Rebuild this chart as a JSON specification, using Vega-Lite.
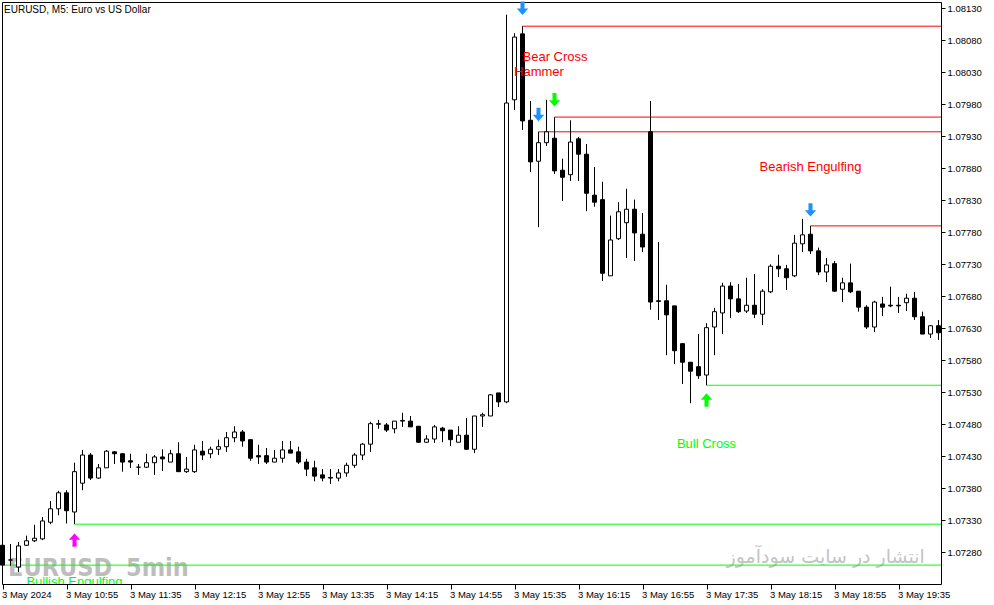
{
"$schema":"https://vega.github.io/schema/vega-lite/v6.json",
"width":939,"height":582,
"autosize":{"type":"none"},
"padding":{"left":2,"top":2,"right":53,"bottom":21},
"background":"white",
"config":{"view":{"stroke":"black","strokeWidth":1},"axis":{"grid":false,"domain":false,"tickColor":"black","labelColor":"black","labelFont":"Liberation Sans","labelFontSize":9.5,"labelOverlap":false,"labelSeparation":0}},
"datasets":{
"candles":[
{"i":0,"open":1.07291,"high":1.07295,"low":1.07257,"close":1.07260},
{"i":1,"open":1.07268,"high":1.07293,"low":1.07259,"close":1.07268},
{"i":2,"open":1.07257,"high":1.07296,"low":1.07249,"close":1.07290},
{"i":3,"open":1.07291,"high":1.07306,"low":1.07290,"close":1.07298},
{"i":4,"open":1.07298,"high":1.07323,"low":1.07296,"close":1.07302},
{"i":5,"open":1.07301,"high":1.07335,"low":1.07299,"close":1.07329},
{"i":6,"open":1.07327,"high":1.07360,"low":1.07324,"close":1.07348},
{"i":7,"open":1.07348,"high":1.07376,"low":1.07338,"close":1.07373},
{"i":8,"open":1.07373,"high":1.07377,"low":1.07325,"close":1.07345},
{"i":9,"open":1.07343,"high":1.07420,"low":1.07324,"close":1.07406},
{"i":10,"open":1.07388,"high":1.07440,"low":1.07377,"close":1.07432},
{"i":11,"open":1.07432,"high":1.07435,"low":1.07393,"close":1.07396},
{"i":12,"open":1.07396,"high":1.07418,"low":1.07395,"close":1.07412},
{"i":13,"open":1.07412,"high":1.07440,"low":1.07412,"close":1.07438},
{"i":14,"open":1.07437,"high":1.07438,"low":1.07418,"close":1.07434},
{"i":15,"open":1.07434,"high":1.07435,"low":1.07406,"close":1.07421},
{"i":16,"open":1.07423,"high":1.07434,"low":1.07412,"close":1.07421},
{"i":17,"open":1.07413,"high":1.07418,"low":1.07401,"close":1.07413},
{"i":18,"open":1.07413,"high":1.07434,"low":1.07412,"close":1.07420},
{"i":19,"open":1.07420,"high":1.07432,"low":1.07401,"close":1.07429},
{"i":20,"open":1.07429,"high":1.07441,"low":1.07407,"close":1.07426},
{"i":21,"open":1.07421,"high":1.07440,"low":1.07421,"close":1.07434},
{"i":22,"open":1.07434,"high":1.07452,"low":1.07406,"close":1.07406},
{"i":23,"open":1.07406,"high":1.07429,"low":1.07404,"close":1.07410},
{"i":24,"open":1.07406,"high":1.07448,"low":1.07404,"close":1.07440},
{"i":25,"open":1.07438,"high":1.07454,"low":1.07424,"close":1.07432},
{"i":26,"open":1.07434,"high":1.07445,"low":1.07427,"close":1.07441},
{"i":27,"open":1.07441,"high":1.07456,"low":1.07432,"close":1.07445},
{"i":28,"open":1.07445,"high":1.07468,"low":1.07437,"close":1.07459},
{"i":29,"open":1.07459,"high":1.07477,"low":1.07452,"close":1.07468},
{"i":30,"open":1.07468,"high":1.07471,"low":1.07445,"close":1.07454},
{"i":31,"open":1.07456,"high":1.07456,"low":1.07423,"close":1.07427},
{"i":32,"open":1.07431,"high":1.07448,"low":1.07418,"close":1.07429},
{"i":33,"open":1.07431,"high":1.07443,"low":1.07418,"close":1.07421},
{"i":34,"open":1.07421,"high":1.07440,"low":1.07421,"close":1.07427},
{"i":35,"open":1.07427,"high":1.07454,"low":1.07420,"close":1.07440},
{"i":36,"open":1.07440,"high":1.07454,"low":1.07435,"close":1.07435},
{"i":37,"open":1.07437,"high":1.07445,"low":1.07418,"close":1.07421},
{"i":38,"open":1.07421,"high":1.07426,"low":1.07399,"close":1.07410},
{"i":39,"open":1.07412,"high":1.07423,"low":1.07391,"close":1.07399},
{"i":40,"open":1.07401,"high":1.07410,"low":1.07391,"close":1.07396},
{"i":41,"open":1.07396,"high":1.07410,"low":1.07387,"close":1.07397},
{"i":42,"open":1.07396,"high":1.07410,"low":1.07391,"close":1.07404},
{"i":43,"open":1.07404,"high":1.07420,"low":1.07398,"close":1.07416},
{"i":44,"open":1.07416,"high":1.07435,"low":1.07412,"close":1.07432},
{"i":45,"open":1.07432,"high":1.07451,"low":1.07424,"close":1.07449},
{"i":46,"open":1.07449,"high":1.07484,"low":1.07437,"close":1.07481},
{"i":47,"open":1.07480,"high":1.07487,"low":1.07473,"close":1.07481},
{"i":48,"open":1.07479,"high":1.07482,"low":1.07468,"close":1.07471},
{"i":49,"open":1.07473,"high":1.07485,"low":1.07466,"close":1.07485},
{"i":50,"open":1.07485,"high":1.07498,"low":1.07476,"close":1.07486},
{"i":51,"open":1.07485,"high":1.07493,"low":1.07476,"close":1.07476},
{"i":52,"open":1.07477,"high":1.07477,"low":1.07451,"close":1.07452},
{"i":53,"open":1.07452,"high":1.07463,"low":1.07451,"close":1.07457},
{"i":54,"open":1.07457,"high":1.07479,"low":1.07451,"close":1.07476},
{"i":55,"open":1.07474,"high":1.07476,"low":1.07452,"close":1.07470},
{"i":56,"open":1.07471,"high":1.07471,"low":1.07446,"close":1.07456},
{"i":57,"open":1.07452,"high":1.07477,"low":1.07452,"close":1.07463},
{"i":58,"open":1.07463,"high":1.07490,"low":1.07440,"close":1.07441},
{"i":59,"open":1.07441,"high":1.07493,"low":1.07435,"close":1.07493},
{"i":60,"open":1.07493,"high":1.07498,"low":1.07476,"close":1.07495},
{"i":61,"open":1.07493,"high":1.07527,"low":1.07493,"close":1.07526},
{"i":62,"open":1.07529,"high":1.07529,"low":1.07507,"close":1.07515},
{"i":63,"open":1.07515,"high":1.08120,"low":1.07513,"close":1.07982},
{"i":64,"open":1.07987,"high":1.08091,"low":1.07971,"close":1.08085},
{"i":65,"open":1.08090,"high":1.08102,"low":1.07940,"close":1.07954},
{"i":66,"open":1.07955,"high":1.07985,"low":1.07874,"close":1.07890},
{"i":67,"open":1.07891,"high":1.07937,"low":1.07788,"close":1.07920},
{"i":68,"open":1.07920,"high":1.07987,"low":1.07915,"close":1.07937},
{"i":69,"open":1.07927,"high":1.07960,"low":1.07871,"close":1.07876},
{"i":70,"open":1.07877,"high":1.07895,"low":1.07829,"close":1.07866},
{"i":71,"open":1.07870,"high":1.07955,"low":1.07860,"close":1.07921},
{"i":72,"open":1.07926,"high":1.07929,"low":1.07860,"close":1.07902},
{"i":73,"open":1.07902,"high":1.07918,"low":1.07813,"close":1.07841},
{"i":74,"open":1.07838,"high":1.07882,"low":1.07820,"close":1.07827},
{"i":75,"open":1.07831,"high":1.07859,"low":1.07704,"close":1.07716},
{"i":76,"open":1.07712,"high":1.07806,"low":1.07712,"close":1.07768},
{"i":77,"open":1.07770,"high":1.07827,"low":1.07768,"close":1.07812},
{"i":78,"open":1.07795,"high":1.07848,"low":1.07740,"close":1.07816},
{"i":79,"open":1.07816,"high":1.07831,"low":1.07735,"close":1.07779},
{"i":80,"open":1.07777,"high":1.07810,"low":1.07749,"close":1.07757},
{"i":81,"open":1.07937,"high":1.07985,"low":1.07659,"close":1.07671},
{"i":82,"open":1.07673,"high":1.07765,"low":1.07643,"close":1.07672},
{"i":83,"open":1.07673,"high":1.07698,"low":1.07588,"close":1.07651},
{"i":84,"open":1.07665,"high":1.07665,"low":1.07574,"close":1.07595},
{"i":85,"open":1.07606,"high":1.07607,"low":1.07543,"close":1.07577},
{"i":86,"open":1.07577,"high":1.07577,"low":1.07513,"close":1.07563},
{"i":87,"open":1.07570,"high":1.07621,"low":1.07551,"close":1.07556},
{"i":88,"open":1.07557,"high":1.07638,"low":1.07541,"close":1.07631},
{"i":89,"open":1.07632,"high":1.07662,"low":1.07588,"close":1.07656},
{"i":90,"open":1.07654,"high":1.07701,"low":1.07621,"close":1.07696},
{"i":91,"open":1.07696,"high":1.07702,"low":1.07646,"close":1.07676},
{"i":92,"open":1.07676,"high":1.07699,"low":1.07654,"close":1.07656},
{"i":93,"open":1.07657,"high":1.07709,"low":1.07654,"close":1.07666},
{"i":94,"open":1.07666,"high":1.07715,"low":1.07646,"close":1.07652},
{"i":95,"open":1.07652,"high":1.07691,"low":1.07635,"close":1.07688},
{"i":96,"open":1.07687,"high":1.07730,"low":1.07685,"close":1.07727},
{"i":97,"open":1.07727,"high":1.07745,"low":1.07710,"close":1.07723},
{"i":98,"open":1.07723,"high":1.07729,"low":1.07690,"close":1.07709},
{"i":99,"open":1.07712,"high":1.07776,"low":1.07710,"close":1.07763},
{"i":100,"open":1.07762,"high":1.07801,"low":1.07749,"close":1.07776},
{"i":101,"open":1.07777,"high":1.07790,"low":1.07746,"close":1.07751},
{"i":102,"open":1.07751,"high":1.07756,"low":1.07713,"close":1.07718},
{"i":103,"open":1.07718,"high":1.07740,"low":1.07702,"close":1.07729},
{"i":104,"open":1.07731,"high":1.07735,"low":1.07687,"close":1.07688},
{"i":105,"open":1.07691,"high":1.07709,"low":1.07671,"close":1.07701},
{"i":106,"open":1.07701,"high":1.07731,"low":1.07685,"close":1.07687},
{"i":107,"open":1.07688,"high":1.07688,"low":1.07656,"close":1.07663},
{"i":108,"open":1.07663,"high":1.07666,"low":1.07629,"close":1.07632},
{"i":109,"open":1.07632,"high":1.07673,"low":1.07624,"close":1.07671},
{"i":110,"open":1.07668,"high":1.07679,"low":1.07649,"close":1.07663},
{"i":111,"open":1.07666,"high":1.07695,"low":1.07663,"close":1.07665},
{"i":112,"open":1.07666,"high":1.07679,"low":1.07654,"close":1.07665},
{"i":113,"open":1.07670,"high":1.07684,"low":1.07657,"close":1.07677},
{"i":114,"open":1.07677,"high":1.07687,"low":1.07643,"close":1.07648},
{"i":115,"open":1.07648,"high":1.07656,"low":1.07621,"close":1.07621},
{"i":116,"open":1.07621,"high":1.07635,"low":1.07615,"close":1.07634},
{"i":117,"open":1.07634,"high":1.07643,"low":1.07612,"close":1.07623}
],
"levels":[
{"from":9,"price":1.07324,"side":"bull"},
{"from":-1,"price":1.07260,"side":"bull"},
{"from":88,"price":1.07541,"side":"bull"},
{"from":65,"price":1.08102,"side":"bear"},
{"from":69,"price":1.07960,"side":"bear"},
{"from":67,"price":1.07937,"side":"bear"},
{"from":101,"price":1.07790,"side":"bear"}
],
"arrows":[
{"i":9,"price":1.07299,"dir":"up","tone":"engulf"},
{"i":65,"price":1.08130,"dir":"down","tone":"cross"},
{"i":67,"price":1.07964,"dir":"down","tone":"cross"},
{"i":69,"price":1.07987,"dir":"down","tone":"pattern"},
{"i":101,"price":1.07815,"dir":"down","tone":"cross"},
{"i":88,"price":1.07518,"dir":"up","tone":"pattern"}
],
"notes":[
{"role":"title","i":0.19,"price":1.08128,"label":"EURUSD, M5:  Euro vs US Dollar","side":"none"},
{"role":"left","i":65,"price":1.08054,"label":"Bear Cross","side":"bear"},
{"role":"left","i":63.94,"price":1.08031,"label":"Hammer","side":"bear"},
{"role":"center","i":101,"price":1.07882,"label":"Bearish Engulfing","side":"bear"},
{"role":"center","i":88,"price":1.07449,"label":"Bull Cross","side":"bull"},
{"role":"center","i":9,"price":1.07234,"label":"Bullish Engulfing","side":"bull"},
{"role":"wm","i":0.69,"price":1.07243,"label":"EURUSD","side":"none"},
{"role":"wm","i":15.44,"price":1.07243,"label":"5min","side":"none"},
{"role":"wmfa","i":102.9,"price":1.07273,"label":"انتشار در سایت سودآموز","side":"none"}
]
},
"layer":[
{"data":{"name":"notes"},"transform":[{"filter":"datum.role=='wm'"}],
 "mark":{"type":"text","align":"left","baseline":"alphabetic","font":"Liberation Sans Narrow, DejaVu Sans Condensed, Liberation Sans","fontWeight":"bold","fontSize":25,"color":"#BDBDBD","clip":true},
 "encoding":{"x":{"field":"i","type":"quantitative","title":null,"scale":{"domain":[-0.0625,117.3125],"nice":false,"zero":false,"padding":0}},
  "y":{"field":"price","type":"quantitative","title":null,"scale":{"domain":[1.072305,1.081398],"nice":false,"zero":false,"padding":0}},
  "text":{"field":"label"}}},
{"data":{"name":"notes"},"transform":[{"filter":"datum.role=='wmfa'"}],
 "mark":{"type":"text","align":"center","baseline":"middle","font":"DejaVu Sans","fontSize":19,"color":"#C4C4C4","clip":true},
 "encoding":{"x":{"field":"i","type":"quantitative","title":null},"y":{"field":"price","type":"quantitative","title":null},"text":{"field":"label"}}},
{"data":{"name":"levels"},
 "mark":{"type":"rule","strokeWidth":1,"clip":true},
 "encoding":{"x":{"field":"from","type":"quantitative","title":null},"x2":{"datum":118},
  "y":{"field":"price","type":"quantitative","title":null},
  "color":{"field":"side","type":"nominal","scale":{"domain":["bull","bear"],"range":["#00FF00","#FF0000"]},"legend":null}}},
{"data":{"name":"candles"},
 "mark":{"type":"rule","color":"black","strokeWidth":1},
 "encoding":{"x":{"field":"i","type":"quantitative","title":null,
   "axis":{"orient":"bottom","values":[0,8,16,24,32,40,48,56,64,72,80,88,96,104,112],"tickCount":30,"tickSize":5,"labelAlign":"left","labelBaseline":"top","labelPadding":0,"labelOffset":-1,"labelFlush":false,"labelOverlap":false,
    "labelExpr":"datum.value==0 ? '3 May 2024' : '3 May ' + format(floor((615+5*datum.value)/60),'d') + ':' + format((615+5*datum.value)%60,'02d')"}},
  "y":{"field":"low","type":"quantitative","title":null,
   "axis":{"orient":"right","values":[1.0728,1.0733,1.0738,1.0743,1.0748,1.0753,1.0758,1.0763,1.0768,1.0773,1.0778,1.0783,1.0788,1.0793,1.0798,1.0803,1.0808,1.0813],"tickCount":30,"format":".5f","tickSize":4,"labelPadding":2,"labelBaseline":"middle","labelOverlap":false,"labelFlush":false,"labelSeparation":0}},
  "y2":{"field":"high"}}},
{"data":{"name":"candles"},
 "mark":{"type":"bar","size":4,"stroke":"black","strokeWidth":1},
 "encoding":{"x":{"field":"i","type":"quantitative","title":null},
  "y":{"field":"open","type":"quantitative","title":null},"y2":{"field":"close"},
  "fill":{"condition":{"test":"datum.close>=datum.open","value":"white"},"value":"black"}}},
{"data":{"name":"arrows"},
 "mark":{"type":"point","filled":true,"size":180,"opacity":1,"strokeWidth":0},
 "encoding":{"x":{"field":"i","type":"quantitative","title":null},"y":{"field":"price","type":"quantitative","title":null},
  "shape":{"field":"dir","type":"nominal","scale":{"domain":["up","down"],"range":["M0,-1L0.85,-0.05L0.3,-0.05L0.3,1L-0.3,1L-0.3,-0.05L-0.85,-0.05Z","M0,1L0.85,0.05L0.3,0.05L0.3,-1L-0.3,-1L-0.3,0.05L-0.85,0.05Z"]},"legend":null},
  "fill":{"field":"tone","type":"nominal","scale":{"domain":["engulf","cross","pattern"],"range":["#FF00FF","#1E90FF","#00FF00"]},"legend":null}}},
{"data":{"name":"notes"},"transform":[{"filter":"datum.role=='left'"}],
 "mark":{"type":"text","align":"left","baseline":"middle","font":"Liberation Sans","fontSize":13,"clip":true},
 "encoding":{"x":{"field":"i","type":"quantitative","title":null},"y":{"field":"price","type":"quantitative","title":null},"text":{"field":"label"},
  "color":{"field":"side","type":"nominal","scale":{"domain":["bull","bear"],"range":["#00FF00","#FF0000"]},"legend":null}}},
{"data":{"name":"notes"},"transform":[{"filter":"datum.role=='center'"}],
 "mark":{"type":"text","align":"center","baseline":"middle","font":"Liberation Sans","fontSize":13,"clip":true},
 "encoding":{"x":{"field":"i","type":"quantitative","title":null},"y":{"field":"price","type":"quantitative","title":null},"text":{"field":"label"},
  "color":{"field":"side","type":"nominal","scale":{"domain":["bull","bear"],"range":["#00FF00","#FF0000"]},"legend":null}}},
{"data":{"name":"notes"},"transform":[{"filter":"datum.role=='title'"}],
 "mark":{"type":"text","align":"left","baseline":"middle","font":"Liberation Sans","fontSize":10,"color":"black"},
 "encoding":{"x":{"field":"i","type":"quantitative","title":null},"y":{"field":"price","type":"quantitative","title":null},"text":{"field":"label"}}}
]
}
